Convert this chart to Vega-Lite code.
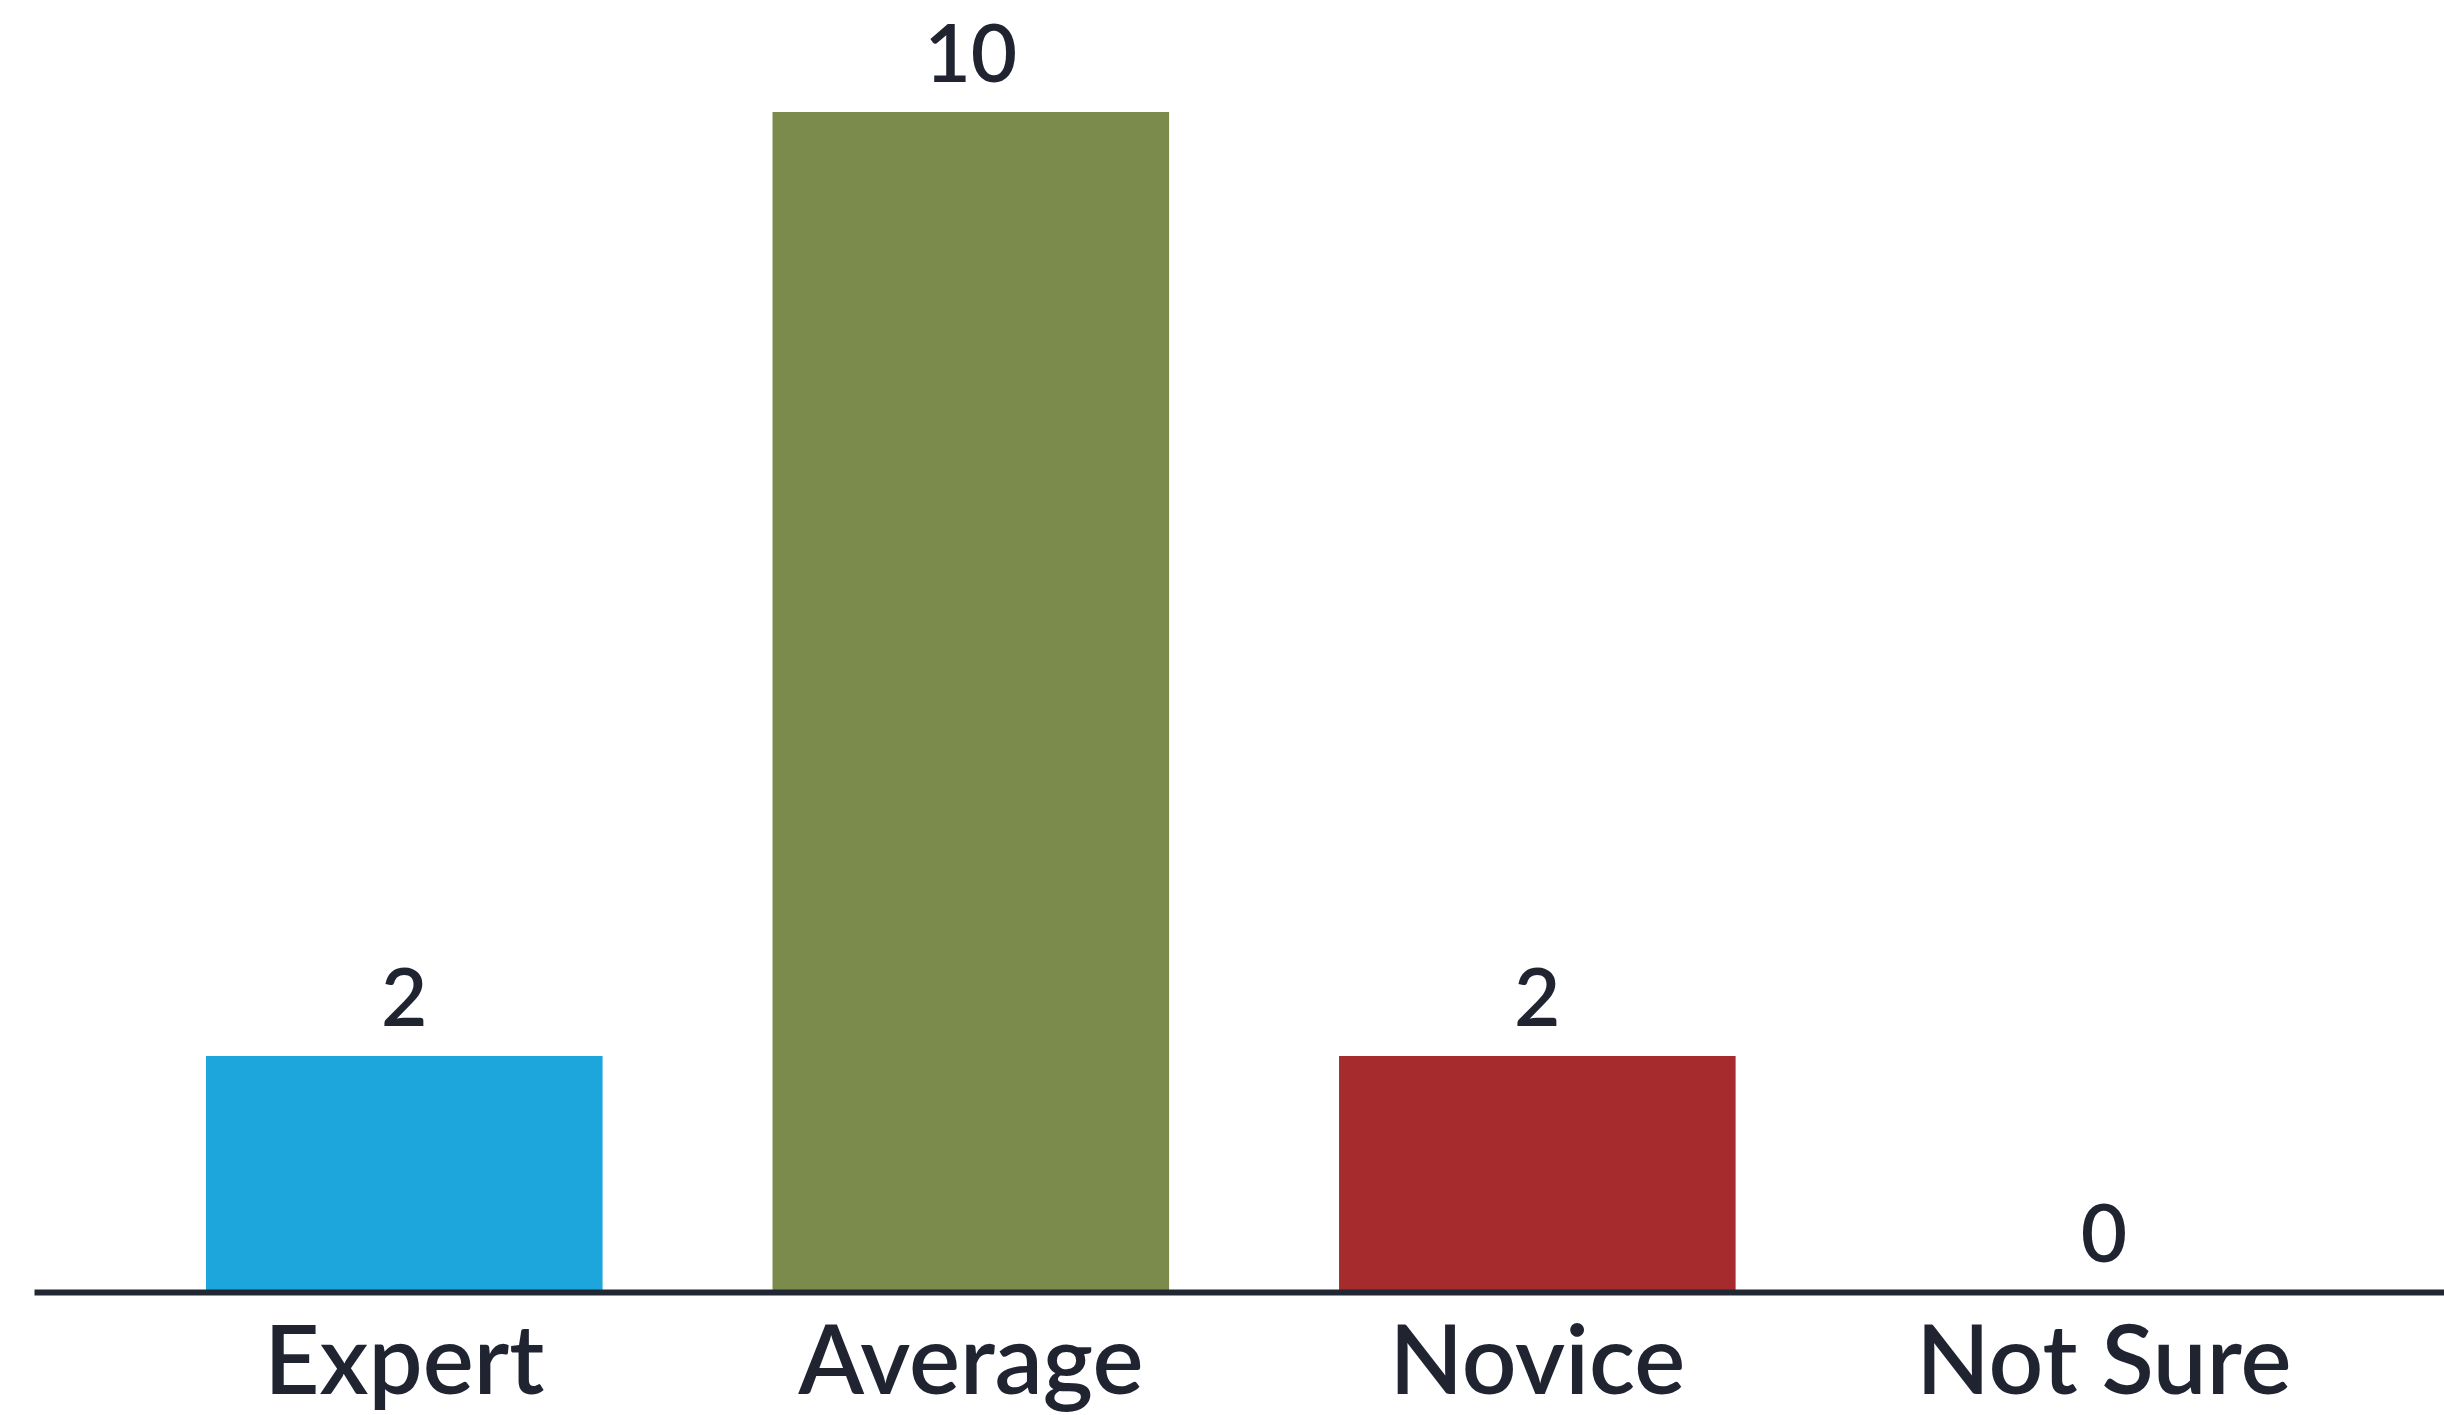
{
  "$schema": "https://vega.github.io/schema/vega-lite/v6.json",
  "autosize": {"type": "none"},
  "width": 2410,
  "height": 1180,
  "padding": {"left": 34, "top": 112, "right": 0, "bottom": 123},
  "background": "white",
  "data": {
    "values": [
      {"level": "Expert", "count": 2},
      {"level": "Average", "count": 10},
      {"level": "Novice", "count": 2},
      {"level": "Not Sure", "count": 0}
    ]
  },
  "config": {
    "view": {"stroke": null},
    "font": "Lato"
  },
  "encoding": {
    "x": {
      "field": "level",
      "type": "nominal",
      "sort": null,
      "scale": {"paddingInner": 0.3, "paddingOuter": 0.277, "align": 0.548},
      "axis": {
        "title": null,
        "domainColor": "#222833",
        "domainWidth": 6,
        "ticks": false,
        "labelAngle": 0,
        "labelFont": "Lato",
        "labelFontSize": 96,
        "labelFontWeight": 600,
        "labelColor": "#1f2430",
        "labelBaseline": "alphabetic",
        "labelPadding": 101,
        "labelLimit": 0,
        "labelOverlap": false,
        "zindex": 1
      }
    },
    "y": {
      "field": "count",
      "type": "quantitative",
      "scale": {"domain": [0, 10], "nice": false},
      "axis": null
    }
  },
  "layer": [
    {
      "mark": {"type": "bar"},
      "encoding": {
        "color": {
          "field": "level",
          "type": "nominal",
          "scale": {
            "domain": ["Expert", "Average", "Novice", "Not Sure"],
            "range": ["#1ca6db", "#7b8b4b", "#a52b2d", "#e8a33d"]
          },
          "legend": null
        }
      }
    },
    {
      "mark": {
        "type": "text",
        "baseline": "alphabetic",
        "dy": -30,
        "font": "Lato",
        "fontSize": 80,
        "fontWeight": 600,
        "color": "#1f2430"
      },
      "encoding": {
        "text": {"field": "count", "type": "quantitative"}
      }
    }
  ]
}
